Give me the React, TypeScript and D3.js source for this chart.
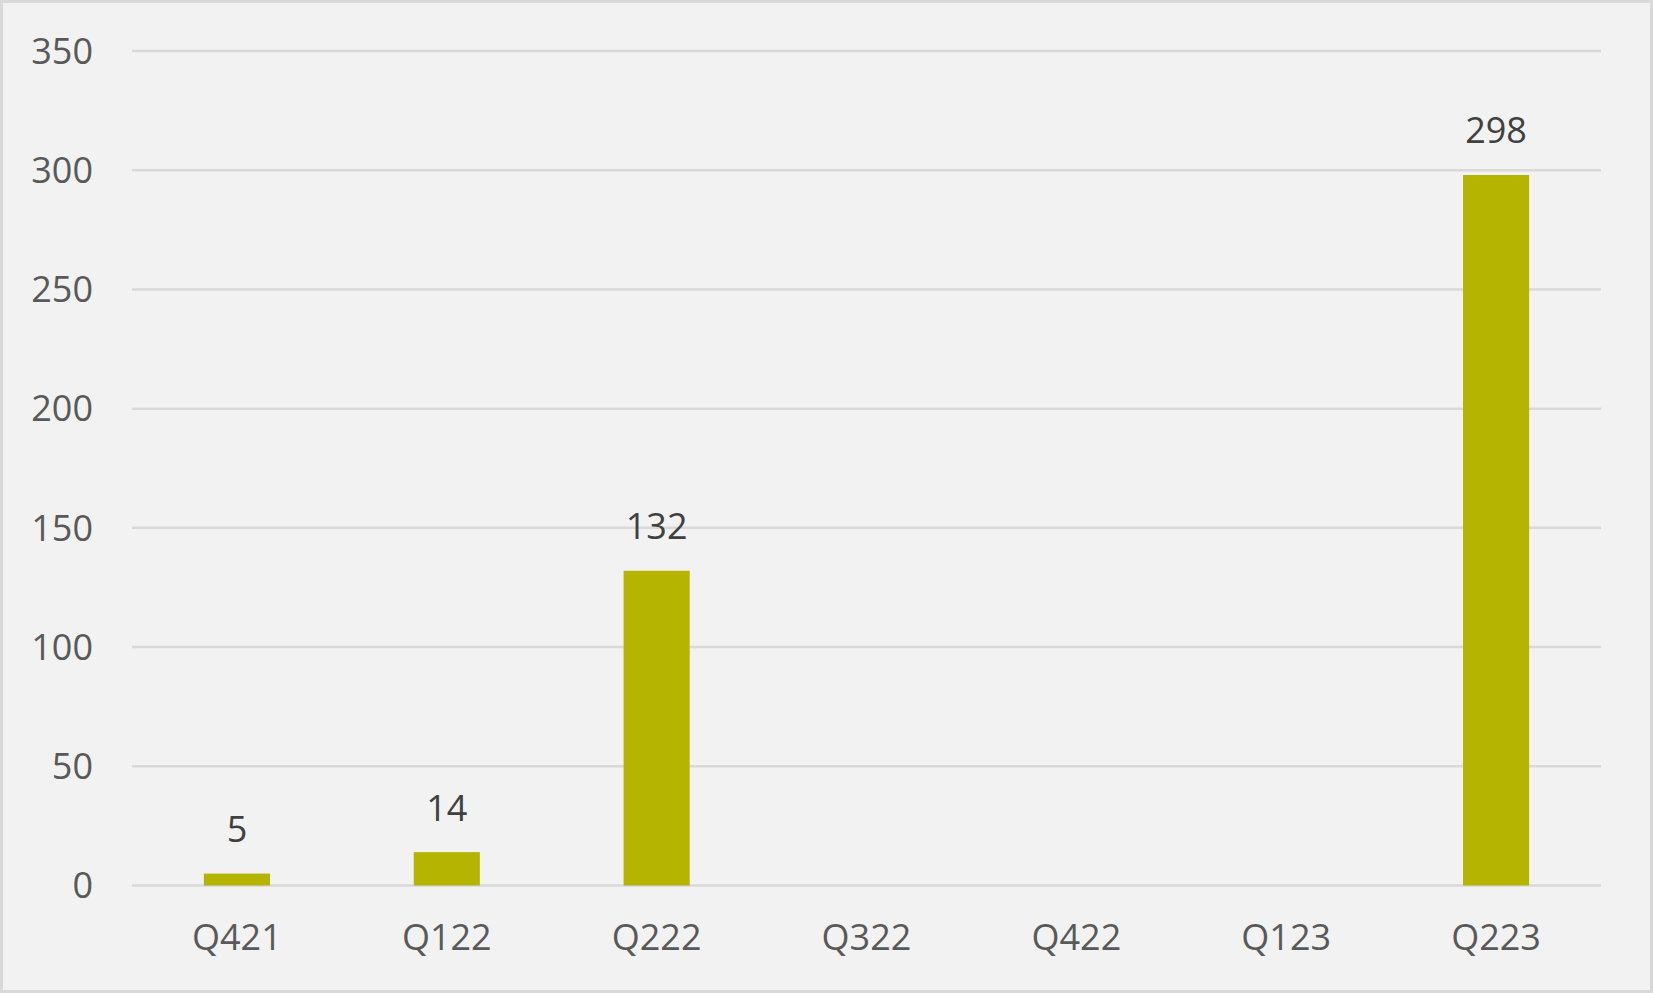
import React from "react";
import * as d3 from "d3";

const categories = ["Q421", "Q122", "Q222", "Q322", "Q422", "Q123", "Q223"];
const values: (number | null)[] = [5, 14, 132, null, null, null, 298];
const yTicks = [0, 50, 100, 150, 200, 250, 300, 350];

const W = 1653;
const H = 993;
const left = 132;
const right = 1601;
const top = 51;
const bottom = 885.5;

export default function App() {
  const x = d3.scaleBand<string>().domain(categories).range([left, right]).paddingInner(0.685).paddingOuter(0.3425);
  const y = d3.scaleLinear().domain([0, 350]).range([bottom, top]);
  const font = "'Open Sans', 'DejaVu Sans', sans-serif";
  return (
    <div style={{ position: "absolute", left: 0, top: 0 }}>
      <svg width={W} height={H} style={{ display: "block" }}>
        <rect x={1.5} y={1.5} width={W - 3} height={H - 3} fill="#f2f2f2" stroke="#d9d9d9" strokeWidth={3} />
        {yTicks.map((t) => (
          <g key={t}>
            <line x1={left} x2={right} y1={y(t)} y2={y(t)} stroke="#d9d9d9" strokeWidth={2.5} />
            <text x={93} y={y(t) + 12.8} textAnchor="end" fontFamily={font} fontSize={36} fill="#595959">
              {t}
            </text>
          </g>
        ))}
        {categories.map((c, i) => {
          const v = values[i];
          const cx = (x(c) as number) + x.bandwidth() / 2;
          return (
            <g key={c}>
              {v !== null && (
                <>
                  <rect x={x(c)} y={y(v)} width={x.bandwidth()} height={bottom - y(v)} fill="#b5b400" />
                  <text x={cx} y={y(v) - 31.5} textAnchor="middle" fontFamily={font} fontSize={36} fill="#404040">
                    {v}
                  </text>
                </>
              )}
              <text x={cx} y={950} textAnchor="middle" fontFamily={font} fontSize={36} fill="#595959">
                {c}
              </text>
            </g>
          );
        })}
      </svg>
    </div>
  );
}
